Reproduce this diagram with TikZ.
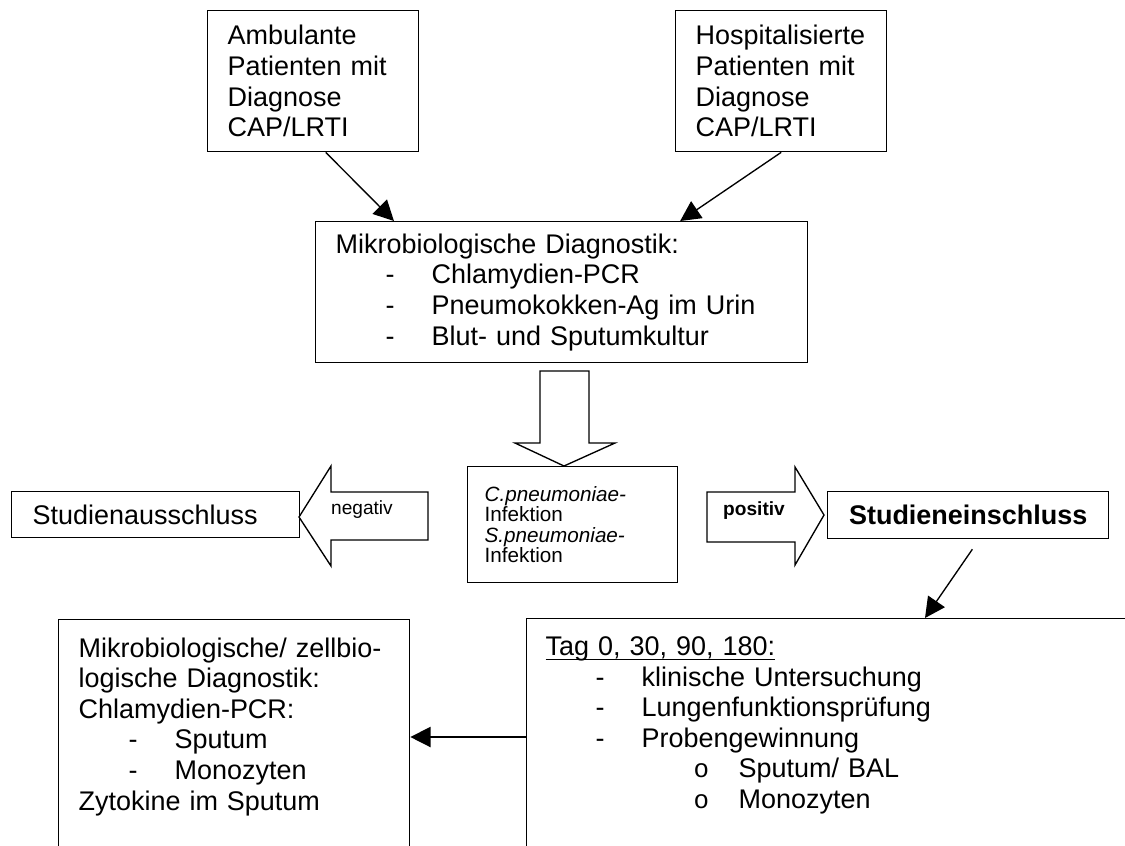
\documentclass[tikz,border=0pt]{standalone}
\usepackage{fontspec}
\setmainfont{Liberation Sans}
\newfontfamily\monofam{Liberation Mono}
\usetikzlibrary{arrows.meta}
\newlength\pxl
\setlength\pxl{0.445pt}
\newcommand{\li}[1]{\hspace*{50\pxl}\makebox[46\pxl][l]{-}#1}
\newcommand{\lii}[1]{\hspace*{148\pxl}\makebox[45\pxl][l]{\monofam\fontsize{11.5}{11.5}\selectfont o}#1}
\newcommand{\underl}[1]{\setbox0\hbox{#1}\rlap{\rule[-2.2pt]{\wd0}{0.5pt}}#1}

\begin{document}
\begin{tikzpicture}[x=\pxl,y=-\pxl
  ,>={Triangle[length=9pt,width=9pt]}
  ,font=\fontsize{12}{13.6}\selectfont,
  semithick]
  \tikzstyle{box}=[draw,rectangle,anchor=north west,align=left,inner xsep=20\pxl,inner ysep=0pt]
  \tikzstyle{small}=[font=\fontsize{8.5}{8.6}\selectfont]
  \tikzstyle{block}=[draw,fill=white]

  \useasboundingbox (0,0) rectangle (1125,845);
  \clip (0,0) rectangle (1125,845);

  \node[box,text width=171\pxl,minimum height=141\pxl] (amb) at (207,10)
    {Ambulante\\Patienten mit\\Diagnose\\CAP/LRTI};
  \node[box,text width=171\pxl,minimum height=141\pxl] (hosp) at (675,10)
    {Hospitalisierte\\Patienten mit\\Diagnose\\CAP/LRTI};
  \node[box,text width=452\pxl,minimum height=141\pxl] (mikro) at (315,221)
    {Mikrobiologische Diagnostik:\\\li{Chlamydien-PCR}\\\li{Pneumokokken-Ag im Urin}\\\li{Blut- und Sputumkultur}};
  \node[box,font=\fontsize{9.2}{9}\selectfont,text width=176\pxl,inner xsep=17\pxl,minimum height=116\pxl] (infekt) at (467,466)
    {\textit{C.pneumoniae-}\\Infektion\\\textit{S.pneumoniae-}\\Infektion};
  \node[box,text width=246\pxl,inner xsep=21\pxl,minimum height=46\pxl] (aus) at (11,491)
    {Studienausschluss};
  \node[box,align=center,minimum width=281\pxl,minimum height=47\pxl] (ein) at (827,491)
    {\bfseries Studieneinschluss};
  \node[box,text width=311\pxl,inner ysep=18\pxl] (diag) at (58,619)
    {Mikrobiologische/ zellbio-\\logische Diagnostik:\\Chlamydien-PCR:\\\li{Sputum}\\\li{Monozyten}\\Zytokine im Sputum\\[40pt]\mbox{}};
  \node[box,text width=600\pxl,inner xsep=19\pxl,inner ysep=18\pxl] (termine) at (526,618)
    {\underl{Tag 0, 30, 90, 180:}\\\li{klinische Untersuchung}\\\li{Lungenfunktionspr\"ufung}\\\li{Probengewinnung}\\\lii{Sputum/ BAL}\\\lii{Monozyten}\\[40pt]\mbox{}};

  % block arrows
  \draw[block] (540,371) -- (589,371) -- (589,443) -- (615,443) -- (564,466) -- (515,443) -- (540,443) -- cycle;
  \draw[block] (428,492) -- (331,492) -- (331,466) -- (299,517) -- (331,566) -- (331,540) -- (428,540) -- cycle;
  \draw[block] (707,492) -- (795,492) -- (795,467) -- (824,515) -- (795,565) -- (795,542) -- (707,542) -- cycle;
  \node[small] (neg) at (362,510) {negativ};
  \node[small] (pos) at (754,511) {\bfseries positiv};

  \coordinate (eintip) at ([xshift=399\pxl]termine.north west);
  \coordinate (lvl) at (0,737);

  \path[->]
  (amb.280)   edge (mikro.157)
  (hosp.south) edge (mikro.31)
  ([xshift=11\pxl]ein.south) edge [shorten <=12\pxl] (eintip)
  (termine.west |- lvl) edge (diag.east |- lvl)
  ;

\end{tikzpicture}
\end{document}
